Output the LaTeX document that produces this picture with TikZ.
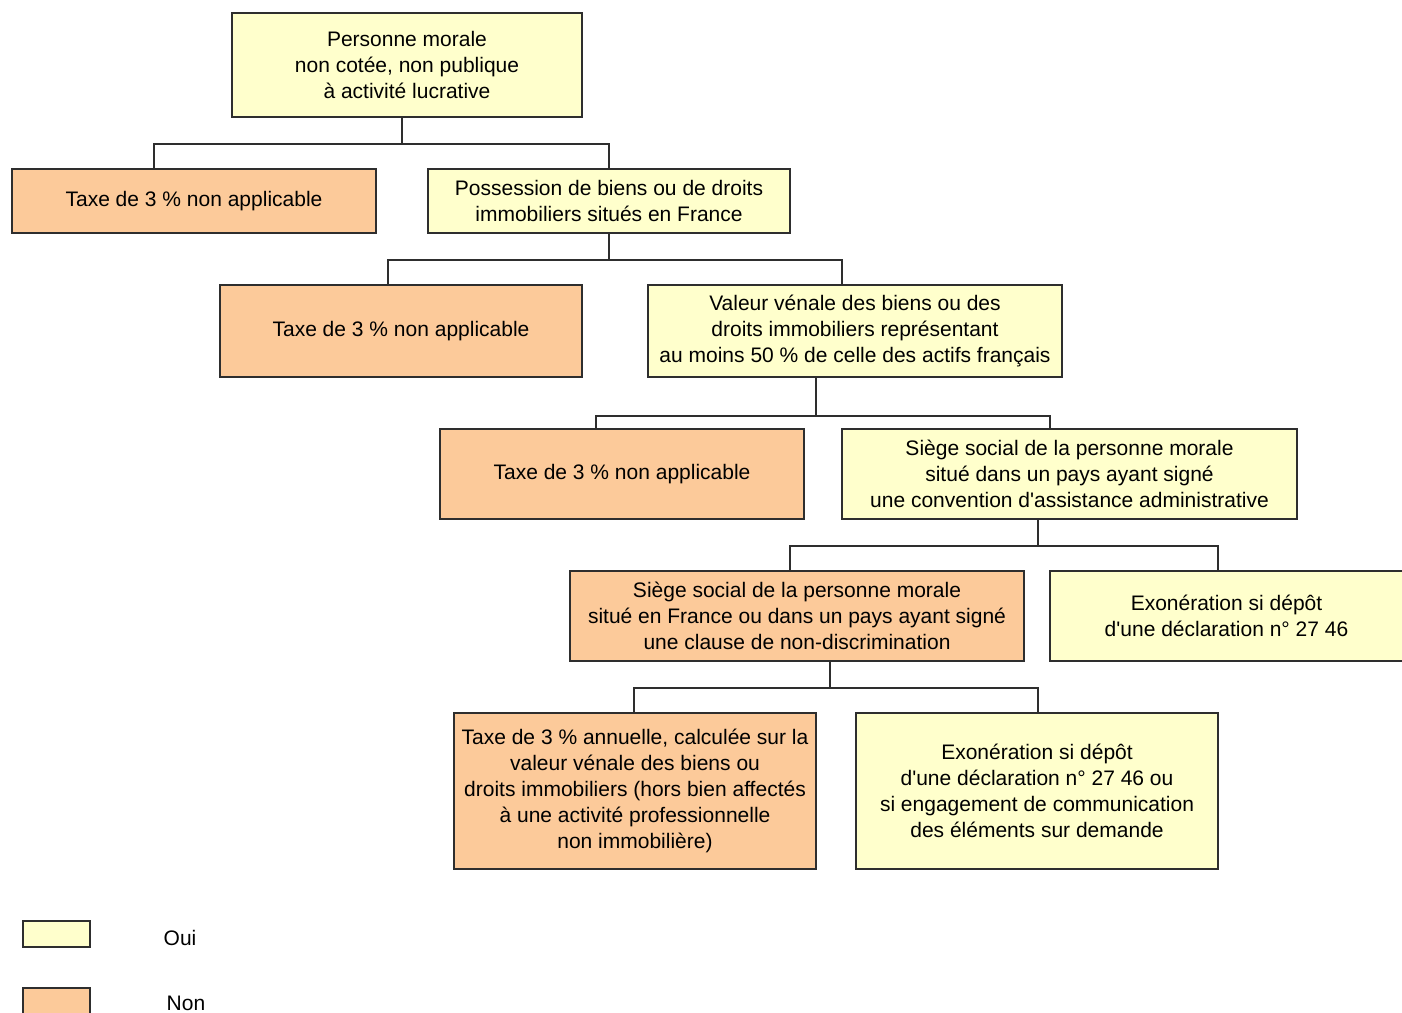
\documentclass[tikz,border=0pt]{standalone}
\usepackage{fontspec}
\setmainfont{Liberation Sans}
\usepackage{xcolor}
\usepackage{tikz}
\usetikzlibrary{calc,positioning}
\definecolor{ouix}{HTML}{FFFFCC}
\definecolor{nonx}{HTML}{FCCA9A}
\definecolor{linex}{HTML}{2E2E2E}
\tikzset{
  box/.style={draw=linex,line width=1pt,align=center,inner sep=2pt,font=\fontsize{10.5}{13}\selectfont},
  oui/.style={box,fill=ouix},
  non/.style={box,fill=nonx},
  lien/.style={draw=linex,line width=1pt}
}
\begin{document}
\begin{tikzpicture}[x=0.5pt,y=-0.5pt]
\useasboundingbox (0,0) rectangle (1402,1012);
% arbre de decision
\node[oui,minimum width=175pt,minimum height=52pt] (pm) at (407,65) {Personne morale\\non cotée, non publique\\à activité lucrative};
\node[non,minimum width=182pt,minimum height=32pt] (na1) at (194,201) {Taxe de 3 \% non applicable};
\node[oui,minimum width=181pt,minimum height=32pt] (poss) at (609,201) {Possession de biens ou de droits\\immobiliers situés en France};
\node[non,minimum width=181pt,minimum height=46pt] (na2) at (401,331) {Taxe de 3 \% non applicable};
\node[oui,minimum width=207pt,minimum height=46pt] (val) at (855,331) {Valeur vénale des biens ou des\\droits immobiliers représentant\\au moins 50 \% de celle des actifs français};
\node[non,minimum width=182pt,minimum height=45pt] (na3) at (622,474) {Taxe de 3 \% non applicable};
\node[oui,minimum width=227.5pt,minimum height=45pt] (siege) at (1069.5,474) {Siège social de la personne morale\\situé dans un pays ayant signé\\une convention d\textquotesingle assistance administrative};
\node[non,minimum width=227pt,minimum height=45pt] (clause) at (797,616) {Siège social de la personne morale\\situé en France ou dans un pays ayant signé\\une clause de non-discrimination};
\node[oui,minimum width=176.5pt,minimum height=45pt] (exo1) at (1226.5,616) {Exonération si dépôt\\d\textquotesingle une déclaration n° 27 46};
\node[non,minimum width=181pt,minimum height=78pt] (taxe) at (635,791) {Taxe de 3 \% annuelle, calculée sur la\\valeur vénale des biens ou\\droits immobiliers (hors bien affectés\\à une activité professionnelle\\non immobilière)};
\node[oui,minimum width=181pt,minimum height=78pt] (exo2) at (1037,791) {Exonération si dépôt\\d\textquotesingle une déclaration n° 27 46 ou\\si engagement de communication\\des éléments sur demande};
% liaisons
\draw[lien] ($(pm.south west)!0.486!(pm.south east)$) -- ++(0,26) coordinate (b1);
\draw[lien] ($(na1.north west)!0.39!(na1.north east)$) |- (b1) -| (poss.north);
\draw[lien] (poss.south) -- ++(0,26) coordinate (b2);
\draw[lien] ($(na2.north west)!0.464!(na2.north east)$) |- (b2) -| ($(val.north west)!0.469!(val.north east)$);
\draw[lien] ($(val.south west)!0.406!(val.south east)$) -- ++(0,38) coordinate (b3);
\draw[lien] ($(na3.north west)!0.429!(na3.north east)$) |- (b3) -| ($(siege.north west)!0.457!(siege.north east)$);
\draw[lien] ($(siege.south west)!0.431!(siege.south east)$) -- ++(0,26) coordinate (b4);
\draw[lien] ($(clause.north west)!0.485!(clause.north east)$) |- (b4) -| ($(exo1.north west)!0.477!(exo1.north east)$);
\draw[lien] ($(clause.south west)!0.573!(clause.south east)$) -- ++(0,26) coordinate (b5);
\draw[lien] ($(taxe.north west)!0.497!(taxe.north east)$) |- (b5) -| ($(exo2.north west)!0.503!(exo2.north east)$);
% legende
\node[oui,minimum width=33.5pt,minimum height=13pt] (lgoui) at (56.5,934) {};
\node[non,minimum width=33.5pt,minimum height=13pt] (lgnon) at (56.5,1001) {};
\node[font=\fontsize{10.5}{13}\selectfont] (txoui) at (180,938) {Oui};
\node[font=\fontsize{10.5}{13}\selectfont] (txnon) at (186,1003) {Non};
\end{tikzpicture}
\end{document}
